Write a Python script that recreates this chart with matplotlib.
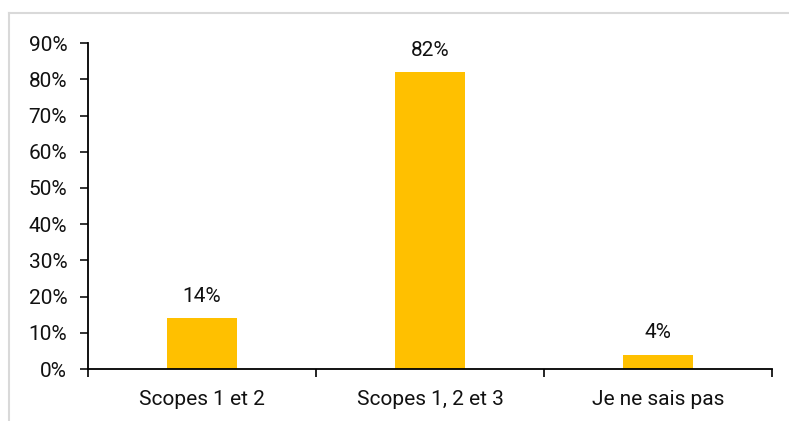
import matplotlib.pyplot as plt
from matplotlib.lines import Line2D
from matplotlib.ticker import FixedLocator, PercentFormatter

plt.rcParams['font.family'] = ['Roboto', 'DejaVu Sans']

categories = ['Scopes 1 et 2', 'Scopes 1, 2 et 3', 'Je ne sais pas']
values = [14, 82, 4]
yticks = [0, 10, 20, 30, 40, 50, 60, 70, 80, 90]

fig = plt.figure(figsize=(7.89, 4.21), dpi=100)
ax = fig.add_axes([0.1115, 0.1235, 0.867, 0.774])

x = range(len(categories))
bars = ax.bar(x, values, width=0.31, color='#FFC000')
ax.bar_label(bars, labels=[f'{v}%' for v in values], padding=9, fontsize=15, color='#111111')

ax.set_xlim(-0.5, len(categories) - 0.5)
ax.set_ylim(0, 90)
ax.set_yticks(yticks)
ax.yaxis.set_major_formatter(PercentFormatter(decimals=0))
ax.set_xticks(list(x))
ax.set_xticklabels(categories)
ax.xaxis.set_minor_locator(FixedLocator([-0.5, 0.5, 1.5, 2.5]))

ax.tick_params(axis='y', labelsize=15, length=6, width=1.2, pad=9, colors='#111111')
ax.tick_params(axis='x', which='major', labelsize=15, length=0, pad=15, colors='#111111')
ax.tick_params(axis='x', which='minor', length=6, width=1.2, color='black')

for side in ['top', 'right']:
    ax.spines[side].set_visible(False)
for side in ['left', 'bottom']:
    ax.spines[side].set_linewidth(1.3)

# light frame around the chart area (top and left)
fig.add_artist(Line2D([9 / 789, 1], [1 - 13 / 421] * 2, color='#D9D9D9', lw=1.5))
fig.add_artist(Line2D([9 / 789] * 2, [0, 1 - 13 / 421], color='#D9D9D9', lw=1.5))

fig.savefig('out.png', dpi=100)
